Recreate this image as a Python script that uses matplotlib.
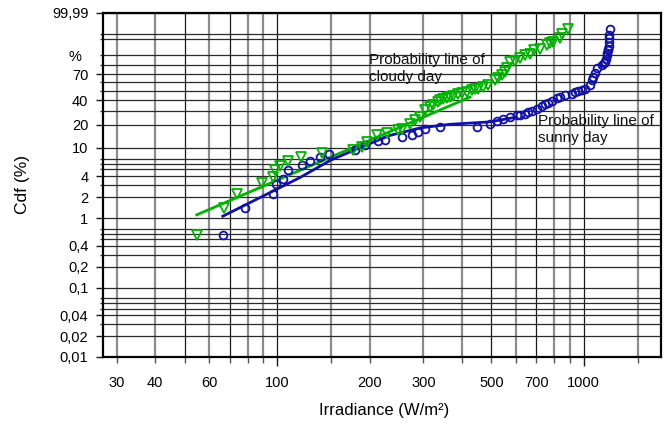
import numpy as np
import matplotlib
matplotlib.use('Agg')
import matplotlib.pyplot as plt
from matplotlib.ticker import FixedLocator, FixedFormatter

plt.rcParams['font.family'] = ['Liberation Sans', 'DejaVu Sans']

# ---------------- data ----------------
cloudy_irr = [54.6, 67.1, 73.8, 89.0, 96.7, 98.4, 102.1, 108.7, 119.3, 139.7,
              177.1, 188.7, 195.9, 211.2, 227.7, 248.4, 254.8, 271.3, 281.7, 292.3,
              303.5, 315.1, 322.2, 335.4, 339.7, 347.5, 357.3, 366.3, 374.6, 389.0,
              400.3, 415.3, 431.2, 442.5, 453.1, 469.6, 488.4, 513.5, 525.7, 540.1,
              553.5, 560.8, 575.0, 597.1, 619.5, 643.6, 668.2, 690.5, 720.3, 757.4,
              776.6, 795.9, 837.1, 852.0, 890.8]
cloudy_cdf = [0.58, 1.42, 2.26, 3.24, 3.94, 4.80, 5.46, 6.42, 7.37, 8.38,
              9.13, 10.1, 11.9, 14.6, 15.7, 17.0, 17.9, 20.8, 22.9, 25.2,
              30.5, 33.3, 35.0, 38.0, 39.8, 40.8, 42.0, 43.2, 44.5, 46.9,
              47.8, 48.7, 50.6, 52.0, 52.7, 54.3, 56.6, 62.7, 65.2, 68.8,
              72.4, 76.7, 83.7, 85.0, 87.2, 89.7, 90.9, 93.2, 94.1, 96.0,
              96.6, 97.1, 98.2, 98.96, 99.55]

sunny_irr = [66.3, 78.5, 97.1, 99.1, 104.1, 108.7, 120.2, 128.2, 137.9, 147.9,
             179.4, 193.4, 213.8, 224.8, 254.8, 274.8, 288.6, 303.5, 339.7, 447.7,
             494.6, 520.2, 546.6, 575.0, 604.7, 619.8, 643.6, 660.0, 676.8, 702.7,
             729.5, 748.0, 766.6, 788.2, 816.5, 837.0, 869.1, 913.8, 937.0, 960.2,
             985.0, 1009.7, 1048.3, 1064.0, 1074.6, 1090.0, 1102.4, 1144.6, 1164.0, 1173.4,
             1181.0, 1188.5, 1195.0, 1200.0, 1202.8, 1206.0, 1209.0, 1211.0, 1212.0, 1218.0]
sunny_cdf = [0.58, 1.42, 2.26, 3.11, 3.66, 4.80, 5.77, 6.5, 7.37, 8.22,
             9.4, 11.0, 12.2, 12.8, 13.9, 14.6, 16.2, 17.9, 18.8, 19.0,
             20.4, 22.5, 24.1, 25.3, 26.5, 27.0, 27.8, 28.8, 29.9, 31.9,
             33.9, 35.8, 37.1, 39.3, 42.1, 43.5, 45.0, 46.9, 48.4, 49.5,
             50.5, 52.7, 57.5, 62.7, 66.8, 71.5, 76.7, 80.4, 82.5, 83.7,
             86.8, 89.7, 91.5, 93.0, 94.1, 95.5, 97.1, 98.1, 98.8, 99.55]

cloudy_fit_irr = [54.6, 425.6]
cloudy_fit_cdf = [1.12, 43.1]

sunny_fit_irr = [66.4, 87.9, 118.7, 148.7, 186.3, 233.3, 292.3, 366.3, 494.6, 597.1]
sunny_fit_cdf = [1.07, 1.98, 3.82, 6.63, 10.0, 14.6, 18.3, 20.4, 21.9, 25.0]

y_major = [0.01, 0.02, 0.04, 0.1, 0.2, 0.4, 1, 2, 4, 10, 20, 40, 70, 99.99]
y_major_labels = ['0,01', '0,02', '0,04', '0,1', '0,2', '0,4', '1', '2', '4',
                  '10', '20', '40', '70', '99,99']
y_minor = [0.03, 0.05, 0.06, 0.07, 0.3, 0.5, 0.6, 0.7, 3, 5, 6, 7,
           30, 50, 60, 80, 90, 98, 99]

x_major = [100, 1000]
x_major_labels = ['100', '1000']
x_minor = [30, 40, 50, 60, 70, 80, 90, 150, 200, 300, 400, 500, 600, 700, 800, 900, 1500]
x_minor_labels = ['30', '40', '', '60', '', '', '', '', '200', '300', '', '500', '', '700', '', '', '']
x_dark = [50, 70, 100, 500, 700, 1000]

GREEN = '#00B400'
BLUE = '#1010AA'


def weib_fwd(p):
    p = np.clip(np.asarray(p, dtype=float), 1e-9, 100 - 1e-9)
    return np.log10(-np.log1p(-p / 100.0))


def weib_inv(w):
    return 100.0 * (-np.expm1(-10.0 ** np.asarray(w, dtype=float)))


fig = plt.figure(figsize=(6.70, 4.24), dpi=100)
ax = fig.add_axes([103 / 670, 1 - 357 / 424, 558 / 670, 344 / 424])
ax.set_xscale('log')
ax.set_yscale('function', functions=(weib_fwd, weib_inv))
ax.set_xlim(27.0, 1787)
ax.set_ylim(0.01, 99.99)

# grid
for xv in x_major + x_minor:
    if xv in x_dark:
        ax.axvline(xv, color='#1a1a1a', lw=0.9, zorder=1)
    else:
        ax.axvline(xv, color='#8c8c8c', lw=1.6, zorder=1)
for yv in y_major + y_minor:
    ax.axhline(yv, color='#2a2a2a', lw=0.9, zorder=1)

# fit lines
ax.plot(cloudy_fit_irr, cloudy_fit_cdf, color=GREEN, lw=2.0, zorder=3)
ax.plot(sunny_fit_irr, sunny_fit_cdf, color=BLUE, lw=2.0, zorder=3)

# data points
ax.plot(sunny_irr, sunny_cdf, linestyle='none', marker='o', ms=5.6, mfc='none',
        mec=BLUE, mew=1.3, zorder=4)
ax.plot(cloudy_irr, cloudy_cdf, linestyle='none', marker='v', ms=7, mfc='none',
        mec=GREEN, mew=1.3, zorder=5)

# ticks
ax.xaxis.set_major_locator(FixedLocator(x_major))
ax.xaxis.set_major_formatter(FixedFormatter(x_major_labels))
ax.xaxis.set_minor_locator(FixedLocator(x_minor))
ax.xaxis.set_minor_formatter(FixedFormatter(x_minor_labels))
ax.yaxis.set_major_locator(FixedLocator(y_major))
ax.yaxis.set_major_formatter(FixedFormatter(y_major_labels))
ax.yaxis.set_minor_locator(FixedLocator(y_minor))
ax.yaxis.set_minor_formatter(FixedFormatter([''] * len(y_minor)))

ax.tick_params(axis='x', which='major', length=6.5, width=1.0, pad=7.5,
               labelsize=10.5, color='#1a1a1a')
ax.tick_params(axis='x', which='minor', length=4.3, width=1.0, pad=9.2,
               labelsize=10.5, color='#555555')
ax.tick_params(axis='y', which='major', length=5.0, width=1.0, pad=5.5,
               labelsize=10.5, color='#1a1a1a')
ax.tick_params(axis='y', which='minor', length=2.2, width=1.0, color='#333333')

for s in ax.spines.values():
    s.set_linewidth(1.6)
    s.set_color('black')

# texts
ax.text((369 - 103) / 558, 1 - (68.8 - 13) / 344, 'Probability line of\ncloudy day',
        transform=ax.transAxes, ha='left', va='center', fontsize=11,
        linespacing=1.25, color='#111111', zorder=6)
ax.text((537.7 - 103) / 558, 1 - (129.7 - 13) / 344, 'Probability line of\nsunny day',
        transform=ax.transAxes, ha='left', va='center', fontsize=11,
        linespacing=1.25, color='#111111', zorder=6)
fig.text(75 / 670, 1 - 57 / 424, '%', ha='center', va='center', fontsize=10.5)
fig.text(23 / 670, 1 - 184 / 424, 'Cdf (%)', rotation=90, ha='center', va='center',
         fontsize=12.5)
fig.text(384 / 670, 1 - 411 / 424, 'Irradiance (W/m\u00b2)', ha='center', va='center',
         fontsize=12)

fig.savefig('out.png', dpi=100)
